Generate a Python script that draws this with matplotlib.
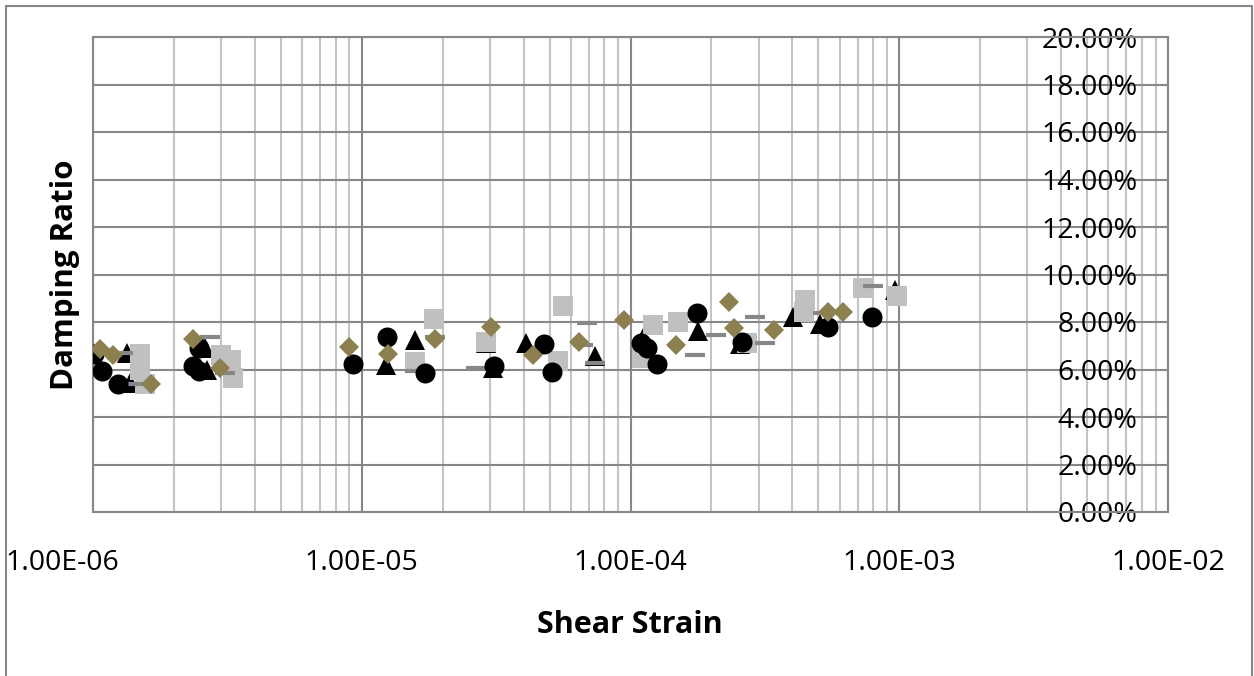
import numpy as np
import matplotlib.pyplot as plt
import matplotlib.transforms as mtransforms
from matplotlib.patches import Rectangle
from matplotlib.ticker import FixedLocator, NullFormatter

plt.rcParams['font.family'] = ['Open Sans', 'DejaVu Sans']

# shear strain (x) and damping ratio in percent (y) for each test series
circle_x = [1.01e-6, 1.08e-6, 1.24e-6, 2.48e-6, 2.36e-6, 2.48e-6, 9.28e-6, 1.24e-5, 1.72e-5, 3.11e-5,
            4.77e-5, 5.10e-5, 1.09e-4, 1.15e-4, 1.26e-4, 1.77e-4, 2.60e-4, 5.43e-4, 7.92e-4]
circle_y = [6.65, 5.94, 5.39, 6.91, 6.15, 5.94, 6.23, 7.37, 5.85, 6.15,
            7.07, 5.89, 7.12, 6.91, 6.23, 8.38, 7.16, 7.79, 8.21]

triangle_x = [1.34e-6, 1.37e-6, 2.61e-6, 2.66e-6, 1.23e-5, 1.58e-5, 2.90e-5, 3.08e-5, 4.09e-5,
              7.38e-5, 1.11e-4, 1.78e-4, 2.56e-4, 4.02e-4, 4.27e-4, 5.07e-4, 9.64e-4]
triangle_y = [6.69, 5.43, 6.91, 5.98, 6.19, 7.24, 7.12, 6.06, 7.12,
              6.57, 7.33, 7.62, 7.07, 8.21, 8.63, 7.92, 9.35]

diamond_x = [1.06e-6, 1.19e-6, 1.64e-6, 2.36e-6, 2.97e-6, 8.97e-6, 1.25e-5, 1.87e-5, 3.03e-5,
             4.34e-5, 6.43e-5, 9.46e-5, 1.48e-4, 2.33e-4, 2.43e-4, 3.42e-4, 5.43e-4, 6.18e-4]
diamond_y = [6.86, 6.61, 5.39, 7.28, 6.06, 6.95, 6.65, 7.28, 7.79,
             6.61, 7.16, 8.08, 7.03, 8.84, 7.75, 7.66, 8.42, 8.42]

square_x = [1.50e-6, 1.50e-6, 1.56e-6, 3.00e-6, 3.26e-6, 3.32e-6, 1.58e-5, 1.86e-5, 2.90e-5, 5.37e-5,
            5.61e-5, 1.10e-4, 1.21e-4, 1.50e-4, 2.71e-4, 4.46e-4, 4.42e-4, 7.33e-4, 9.81e-4]
square_y = [6.65, 5.98, 5.39, 6.61, 6.40, 5.64, 6.32, 8.13, 7.16, 6.36,
            8.67, 6.48, 7.87, 8.00, 7.12, 8.93, 8.42, 9.43, 9.09]

dash_x = [1.29e-6, 1.41e-6, 2.73e-6, 3.10e-6, 1.58e-5, 1.87e-5, 2.66e-5, 6.66e-5,
          6.89e-5, 7.38e-5, 1.74e-4, 2.08e-4, 2.91e-4, 3.17e-4, 5.20e-4, 7.99e-4]
dash_y = [6.69, 5.39, 7.37, 5.85, 5.94, 7.37, 6.06, 7.03,
          7.96, 6.27, 6.61, 7.45, 8.21, 7.12, 8.38, 9.52]

x_ticks = [1e-6, 1e-5, 1e-4, 1e-3, 1e-2]
x_tick_labels = ['1.00E-06', '1.00E-05', '1.00E-04', '1.00E-03', '1.00E-02']
y_ticks = [0, 2, 4, 6, 8, 10, 12, 14, 16, 18, 20]
y_tick_labels = ['%.2f%%' % v for v in y_ticks]

W, H = 1254, 676
fig = plt.figure(figsize=(W / 100, H / 100), dpi=100)
ax = fig.add_axes([93 / W, 1 - 512 / H, (1168 - 93) / W, (512 - 37) / H])

ax.plot(triangle_x, triangle_y, ls='none', marker='^', ms=14.4, color='black', mew=0, zorder=3)
ax.plot(square_x, square_y, ls='none', marker='s', ms=14.4, color='#C0C0C0', mew=0, zorder=4)
ax.plot(dash_x, dash_y, ls='none', marker='_', ms=15, mew=3.0, color='#878787', zorder=5)
ax.plot(circle_x, circle_y, ls='none', marker='o', ms=14.4, color='black', mew=0, zorder=6)
ax.plot(diamond_x, diamond_y, ls='none', marker='D', ms=10.2, color='#8C8050', mew=0, zorder=7)

ax.set_xscale('log')
ax.set_xlim(1e-6, 1e-2)
ax.set_ylim(0, 20)

ax.xaxis.set_major_locator(FixedLocator(x_ticks))
ax.set_xticklabels(x_tick_labels)
minor = [m * d for d in [1e-6, 1e-5, 1e-4, 1e-3] for m in range(2, 10)]
ax.xaxis.set_minor_locator(FixedLocator(minor))
ax.xaxis.set_minor_formatter(NullFormatter())
ax.set_yticks(y_ticks)
ax.set_yticklabels(y_tick_labels)

ax.set_axisbelow(True)
ax.grid(which='major', axis='both', color='#878787', lw=1.5)
ax.grid(which='minor', axis='x', color='#C4C4C4', lw=1.5)
for s in ax.spines.values():
    s.set_color('#878787')
    s.set_linewidth(1.5)

ax.tick_params(axis='x', which='both', length=0, labelsize=20.5, pad=27, colors='black')
ax.tick_params(axis='y', which='both', length=0, left=False, labelleft=False,
               right=False, labelright=True, labelsize=20.5, pad=-22, colors='black')
for lab in ax.get_yticklabels():
    lab.set_horizontalalignment('right')

# first strain label sits left of its gridline
first = ax.get_xticklabels()[0]
first.set_transform(first.get_transform() +
                    mtransforms.ScaledTranslation(-0.31, 0, fig.dpi_scale_trans))

fig.text(630 / W, 1 - 625 / H, 'Shear Strain', ha='center', va='center',
         fontsize=22, fontweight='bold')
fig.text(65 / W, 1 - 275 / H, 'Damping Ratio', ha='center', va='center',
         rotation=90, fontsize=22.5, fontweight='bold')

# chart area border
fig.patches.append(Rectangle((6 / W, -0.05), (1252 - 6) / W, 1 - 6 / H + 0.05,
                             transform=fig.transFigure, fill=False,
                             edgecolor='#878787', lw=1.5))

fig.savefig('out.png', dpi=100)
